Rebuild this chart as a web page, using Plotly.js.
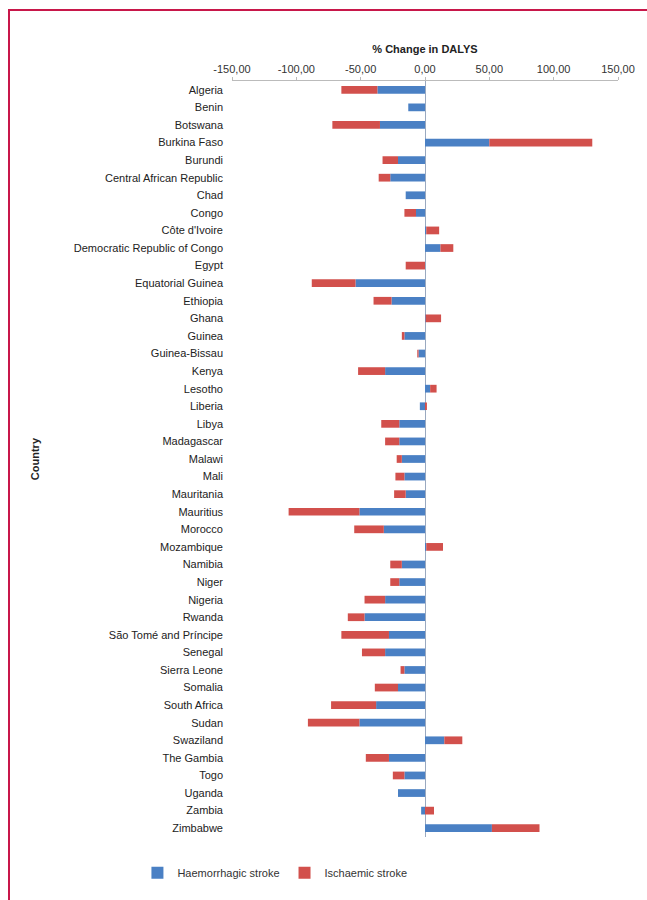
<!DOCTYPE html>
<html>
<head>
<meta charset="utf-8">
<script src="https://cdn.plot.ly/plotly-3.0.1.min.js"></script>
<style>
  html, body { margin: 0; padding: 0; background: #ffffff; }
  #wrap { position: relative; width: 647px; height: 900px; overflow: hidden; background: #ffffff; }
  #frameTop { position: absolute; left: 8px; top: 9px; width: 660px; height: 2px; background: #c8174a; }
  #frameLeft { position: absolute; left: 8px; top: 9px; width: 2px; height: 900px; background: #c8174a; }
  #chart { position: absolute; left: 0; top: 0; width: 647px; height: 900px; }
</style>
</head>
<body>
<div id="wrap">
  <div id="chart"></div>
  <div id="frameTop"></div>
  <div id="frameLeft"></div>
</div>
<script>
const countries = ["Algeria","Benin","Botswana","Burkina Faso","Burundi","Central African Republic","Chad","Congo","Côte d'Ivoire","Democratic Republic of Congo","Egypt","Equatorial Guinea","Ethiopia","Ghana","Guinea","Guinea-Bissau","Kenya","Lesotho","Liberia","Libya","Madagascar","Malawi","Mali","Mauritania","Mauritius","Morocco","Mozambique","Namibia","Niger","Nigeria","Rwanda","São Tomé and Príncipe","Senegal","Sierra Leone","Somalia","South Africa","Sudan","Swaziland","The Gambia","Togo","Uganda","Zambia","Zimbabwe"];

const haemorrhagic = [-37,-13,-35,50,-21,-27,-15,-7,1,12,0,-54,-26,0.5,-16,-5,-31,4,-4,-20,-20,-18,-16,-15,-51,-32,1,-18,-20,-31,-47,-28,-31,-16,-21,-38,-51,15,-28,-16,-21,-3,52];

const ischaemic = [-28,0,-37,80,-12,-9,0,-9,10,10,-15,-34,-14,12,-2,-1,-21,5,1.5,-14,-11,-4,-7,-9,-55,-23,13,-9,-7,-16,-13,-37,-18,-3,-18,-35,-40,14,-18,-9,0,7,37];

const tickValues = [-150,-100,-50,0,50,100,150];
const tickLabels = ["-150,00","-100,00","-50,00","0,00","50,00","100,00","150,00"];

const FONT = "'Liberation Sans', Arial, Helvetica, sans-serif";

const traces = [
  {
    type: "bar", orientation: "h", name: "Haemorrhagic stroke",
    y: countries, x: haemorrhagic,
    marker: { color: "#4a80c4" }
  },
  {
    type: "bar", orientation: "h", name: "Ischaemic stroke",
    y: countries, x: ischaemic,
    marker: { color: "#d2504c" }
  }
];

const layout = {
  width: 647, height: 900,
  margin: { l: 232, r: 29, t: 81, b: 63 },
  paper_bgcolor: "#ffffff", plot_bgcolor: "#ffffff",
  barmode: "relative",
  bargap: 0.56,
  font: { family: FONT, size: 11, color: "#222222" },
  showlegend: true,
  legend: {
    orientation: "h", traceorder: "normal",
    x: -0.245, xanchor: "left", y: -0.028, yanchor: "top",
    font: { family: FONT, size: 11, color: "#333333" },
    itemwidth: 30
  },
  annotations: [
    {
      xref: "paper", yref: "paper", x: -0.51, y: 0.5,
      xanchor: "center", yanchor: "middle", textangle: -90, showarrow: false,
      text: "<b>Country</b>",
      font: { family: FONT, size: 11, color: "#222222" }
    }
  ],
  xaxis: {
    side: "top",
    range: [-150, 150],
    tickvals: tickValues, ticktext: tickLabels,
    showgrid: false,
    showline: true, linecolor: "#bbbbbb", linewidth: 1,
    ticks: "outside", ticklen: 3, tickcolor: "#bbbbbb",
    zeroline: true, zerolinecolor: "#9aa9c0", zerolinewidth: 1,
    tickfont: { family: FONT, size: 11, color: "#333333" },
    title: { text: "<b>% Change in DALYS</b>", font: { family: FONT, size: 11, color: "#222222" }, standoff: 6 },
    fixedrange: true
  },
  yaxis: {
    type: "category",
    autorange: "reversed",
    showgrid: false, showline: false, zeroline: false,
    ticks: "", ticklabelstandoff: 8,
    tickfont: { family: FONT, size: 11, color: "#222222" },
    fixedrange: true
  }
};

Plotly.newPlot("chart", traces, layout, { displayModeBar: false, staticPlot: true });
</script>
</body>
</html>
